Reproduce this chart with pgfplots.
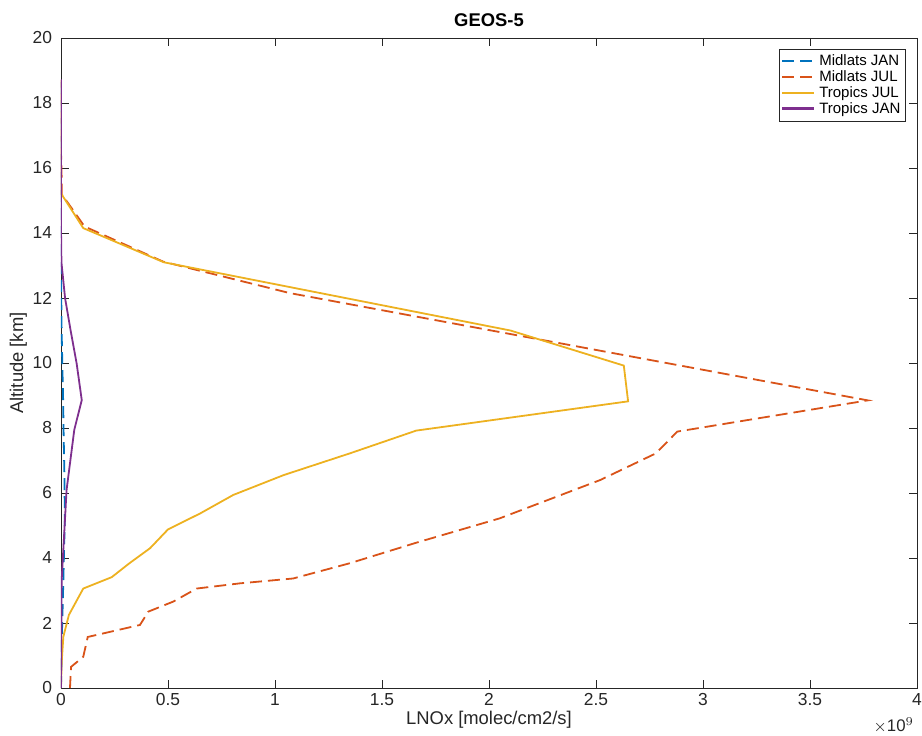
\documentclass[border=0pt]{standalone}
\usepackage{fontspec}
\setmainfont{Liberation Sans}
\usepackage{pgfplots}
\pgfplotsset{compat=1.18}

\definecolor{mlblue}{rgb}{0,0.447,0.741}
\definecolor{mlred}{rgb}{0.850,0.325,0.098}
\definecolor{mlyellow}{rgb}{0.929,0.694,0.125}
\definecolor{mlpurple}{rgb}{0.494,0.184,0.556}
\definecolor{axgray}{gray}{0.15}

\begin{document}
\begin{tikzpicture}[x=1pt,y=1pt]
% page frame = 922 x 735 px at 0.5pt per px, axis corner at px (61,688)
\useasboundingbox (-30.5pt,-23.5pt) rectangle (430.5pt,344pt);
\begin{axis}[
  at={(0,0)}, anchor=south west,
  scale only axis, width=428pt, height=325pt,
  xmin=0, xmax=4, ymin=0, ymax=20,
  xtick={0,0.5,...,4}, ytick={0,2,...,20},
  scaled x ticks=false,
  tick align=inside, major tick length=4pt,
  axis line style={axgray, line width=0.4pt},
  tick style={axgray, line width=0.4pt},
  every tick label/.append style={axgray, font=\fontsize{8.7}{10}\selectfont},
  /pgf/number format/assume math mode=true,
  xticklabel style={yshift=1pt},
  yticklabel style={xshift=-1pt},
  xlabel={LNOx [molec/cm2/s]},
  ylabel={Altitude [km]},
  label style={axgray, font=\fontsize{9.2}{11}\selectfont},
  xlabel style={yshift=4pt},
  ylabel style={yshift=-4pt},
  title={\textbf{GEOS-5}},
  title style={font=\fontsize{9.2}{11}\selectfont, yshift=-4pt},
  legend cell align=left,
  legend style={at={(rel axis cs:1,1)}, anchor=north east, xshift=-5.5pt, yshift=-5.5pt,
    font=\fontsize{7.5}{8.6}\selectfont, draw=axgray, line width=0.4pt,
    inner sep=0.6pt, row sep=-3pt},
  legend image code/.code={\draw[#1, line width=1.1pt] (0pt,0.3pt) -- (16pt,0.3pt);},
]
\addplot[mlblue, line width=0.9pt, dash pattern=on 6pt off 3pt] coordinates {
  (0,0) (0.004,1.57) (0.010,3.06) (0.018,5.22) (0.016,6.55) (0.012,7.92)
  (0.010,8.86) (0.006,9.99) (0.003,11.0) (0.001,12.15) (0,13.1) (0,18.7)
};
\addlegendentry{Midlats JAN}
\addplot[mlred, line width=0.9pt, dash pattern=on 6pt off 3pt] coordinates {
  (0.042,0) (0.047,0.65) (0.104,0.96) (0.125,1.57) (0.369,1.94) (0.408,2.35)
  (0.525,2.66) (0.634,3.06) (0.836,3.22) (1.085,3.37) (1.35,3.84) (1.66,4.47)
  (2.05,5.22) (2.52,6.40) (2.78,7.22) (2.88,7.89) (3.77,8.85) (1.07,12.15)
  (0.477,13.12) (0.11,14.2) (0.003,15.2) (0.003,15.73) (0,16.5) (0,18.7)
};
\addlegendentry{Midlats JUL}
\addplot[mlyellow, line width=0.9pt] coordinates {
  (0,0) (0.003,0.77) (0.011,1.58) (0.037,2.25) (0.104,3.06) (0.237,3.41)
  (0.32,3.84) (0.416,4.30) (0.50,4.88) (0.65,5.37) (0.805,5.94) (1.04,6.55)
  (1.35,7.22) (1.66,7.92) (2.65,8.82) (2.63,9.92) (2.10,11.0) (0.48,13.1)
  (0.104,14.15) (0,15.22) (0,18.7)
};
\addlegendentry{Tropics JUL}
\addplot[mlpurple, line width=0.9pt] coordinates {
  (0,0) (0.003,3.3) (0.026,6.09) (0.062,7.94) (0.097,8.86) (0.073,9.99)
  (0.045,11.0) (0.019,12.0) (0.002,13.1) (0,14.15) (0,18.73)
};
\addlegendentry{Tropics JAN}
\end{axis}
\node[axgray, anchor=base east, font=\fontsize{8.4}{10}\selectfont] at (430pt,-21.5pt) {$\times$10$^{9}$};
\end{tikzpicture}
\end{document}
